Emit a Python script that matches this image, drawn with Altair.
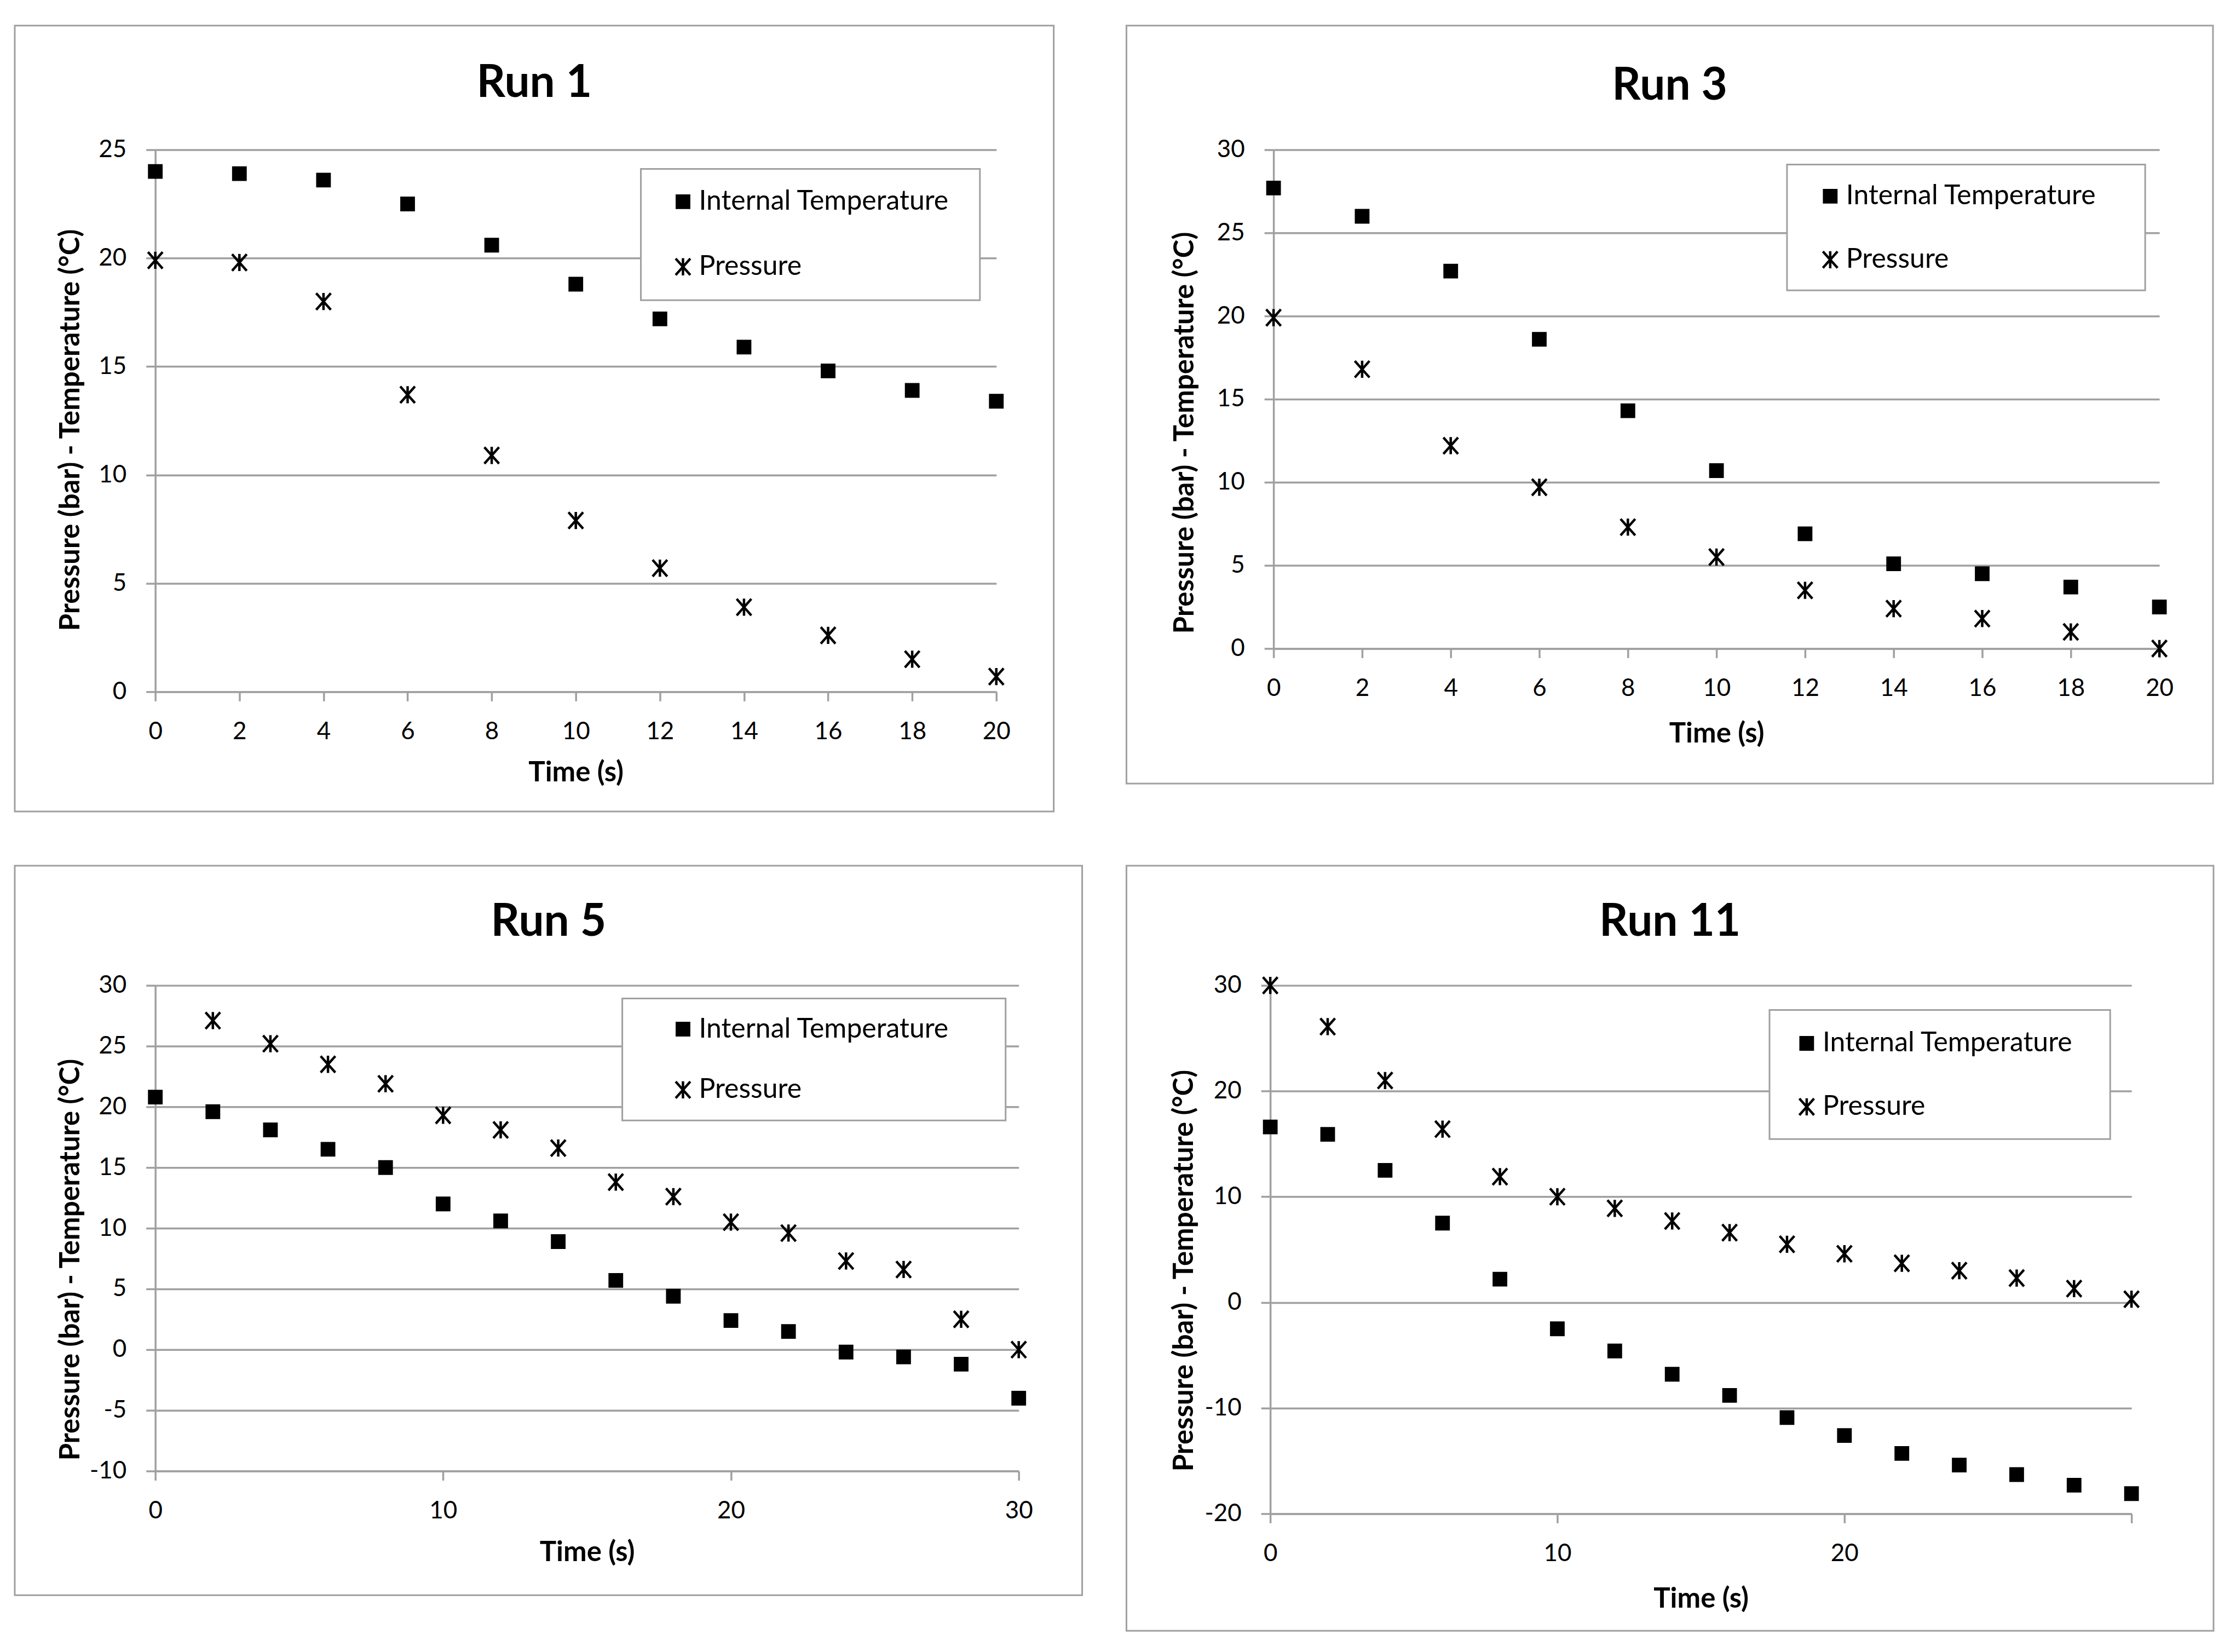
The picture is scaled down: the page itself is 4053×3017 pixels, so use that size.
import altair as alt
import pandas as pd

SERIES = ["Internal Temperature", "Pressure"]

# ---- data ----
run1_time = [0, 2, 4, 6, 8, 10, 12, 14, 16, 18, 20]
run1_temp = [24.0, 23.9, 23.6, 22.5, 20.6, 18.8, 17.2, 15.9, 14.8, 13.9, 13.4]
run1_pres = [19.9, 19.8, 18.0, 13.7, 10.9, 7.9, 5.7, 3.9, 2.6, 1.5, 0.7]

run3_time = [0, 2, 4, 6, 8, 10, 12, 14, 16, 18, 20]
run3_temp = [27.7, 26.0, 22.7, 18.6, 14.3, 10.7, 6.9, 5.1, 4.5, 3.7, 2.5]
run3_pres = [19.9, 16.8, 12.2, 9.7, 7.3, 5.5, 3.5, 2.4, 1.8, 1.0, 0.0]

run5_time = [0, 2, 4, 6, 8, 10, 12, 14, 16, 18, 20, 22, 24, 26, 28, 30]
run5_temp = [20.8, 19.6, 18.1, 16.5, 15.0, 12.0, 10.6, 8.9, 5.7, 4.4, 2.4, 1.5, -0.2, -0.6, -1.2, -4.0]
run5_pres_time = [2, 4, 6, 8, 10, 12, 14, 16, 18, 20, 22, 24, 26, 28, 30]
run5_pres = [27.1, 25.2, 23.5, 21.9, 19.3, 18.1, 16.6, 13.8, 12.6, 10.5, 9.6, 7.3, 6.6, 2.5, 0.0]

run11_time = [0, 2, 4, 6, 8, 10, 12, 14, 16, 18, 20, 22, 24, 26, 28, 30]
run11_temp = [16.6, 15.9, 12.5, 7.5, 2.2, -2.5, -4.6, -6.8, -8.8, -10.9, -12.6, -14.3, -15.4, -16.3, -17.3, -18.1]
run11_pres = [30.0, 26.1, 21.0, 16.4, 11.9, 10.0, 8.9, 7.7, 6.6, 5.5, 4.6, 3.7, 3.0, 2.3, 1.3, 0.3]

x_ticks_20 = [0, 2, 4, 6, 8, 10, 12, 14, 16, 18, 20]
x_ticks_30 = [0, 10, 20, 30]
y_ticks_run1 = [0, 5, 10, 15, 20, 25]
y_ticks_run3 = [0, 5, 10, 15, 20, 25, 30]
y_ticks_run5 = [-10, -5, 0, 5, 10, 15, 20, 25, 30]
y_ticks_run11 = [-20, -10, 0, 10, 20, 30]

X_TITLE = "Time (s)"
Y_TITLE = "Pressure (bar) - Temperature (°C)"

GRAY = "#a0a0a0"
FONT = "Lato"
ASTERISK = "M-1.2,-1.35L1.2,1.35M1.2,-1.35L-1.2,1.35M0,-1.4L0,1.4"


def long_df(tt, temp, pt, pres):
    rows = [{"Time": t, "Value": v, "Series": SERIES[0]} for t, v in zip(tt, temp)]
    rows += [{"Time": t, "Value": v, "Series": SERIES[1]} for t, v in zip(pt, pres)]
    return pd.DataFrame(rows)


def rect_layer(b, fill):
    return alt.Chart(alt.Data(values=[{"k": 1}])).mark_rect(
        fill=fill, stroke=GRAY, strokeWidth=3
    ).encode(
        x=alt.value(b[0]), x2=alt.value(b[1]), y=alt.value(b[2]), y2=alt.value(b[3])
    )


def panel(title, df, w, h, xdom, xvals, ydom, yvals, box, legbox, legxy, rowpad,
          ytitle_xy, xtitle_y, title_offset, hide_last=False):
    xlabel_expr = "datum.value == 30 ? '' : '' + datum.value" if hide_last else "'' + datum.value"
    xaxis = alt.Axis(
        values=xvals, title=X_TITLE, grid=False,
        domainColor=GRAY, domainWidth=3.5, tickColor=GRAY, tickWidth=3.5, tickSize=17,
        labelFont=FONT, labelFontSize=44, labelColor="black", labelPadding=34,
        labelExpr=xlabel_expr, labelFlush=False, labelOverlap=False,
        titleFont=FONT, titleFontSize=51, titleFontWeight="bold", titleColor="black",
        titleY=xtitle_y, titleX=w / 2, titleBaseline="middle", titleAlign="center",
    )
    yaxis = alt.Axis(
        values=yvals, title=Y_TITLE, grid=True, gridColor=GRAY, gridWidth=3.5,
        domainColor=GRAY, domainWidth=3.5, tickColor=GRAY, tickWidth=3.5, tickSize=17,
        labelFont=FONT, labelFontSize=44, labelColor="black", labelPadding=36,
        labelExpr="'' + datum.value", labelFlush=False, labelOverlap=False,
        titleFont=FONT, titleFontSize=51, titleFontWeight="bold", titleColor="black",
        titleX=ytitle_xy[0], titleY=ytitle_xy[1], titleAngle=270,
        titleAlign="center", titleBaseline="middle",
    )
    legend = alt.Legend(
        title=None, orient="none", legendX=legxy[0], legendY=legxy[1],
        labelFont=FONT, labelFontSize=50, labelColor="black", labelLimit=2000,
        labelOffset=4, rowPadding=rowpad, padding=0, symbolSize=500,
        symbolStrokeWidth=4.5,
    )
    pts = alt.Chart(df).mark_point(
        filled=False, strokeWidth=4.5, size=500, opacity=1
    ).encode(
        x=alt.X("Time:Q", scale=alt.Scale(domain=xdom, nice=False, zero=False), axis=xaxis),
        y=alt.Y("Value:Q", scale=alt.Scale(domain=ydom, nice=False, zero=False), axis=yaxis),
        shape=alt.Shape("Series:N", scale=alt.Scale(domain=SERIES, range=["square", ASTERISK]),
                        legend=legend),
        fill=alt.Fill("Series:N", scale=alt.Scale(domain=SERIES, range=["black", "transparent"]),
                      legend=legend),
        stroke=alt.Stroke("Series:N", scale=alt.Scale(domain=SERIES, range=["black", "black"]),
                          legend=legend),
    )
    return alt.layer(rect_layer(box, "transparent"), rect_layer(legbox, "white"), pts).properties(
        width=w, height=h,
        title=alt.TitleParams(
            text=title, font=FONT, fontSize=82, fontWeight="bold", color="black",
            anchor="middle", baseline="alphabetic", offset=title_offset, frame="bounds",
        ),
    )


p1 = panel("Run 1", long_df(run1_time, run1_temp, run1_time, run1_pres),
           1538, 991, [0, 20], x_ticks_20, [0, 25], y_ticks_run1,
           box=(-257, 1643, -227, 1210), legbox=(888, 1508, 35, 275),
           legxy=(940, 70), rowpad=69, ytitle_xy=(-154, 512), xtitle_y=148,
           title_offset=-213.5)
p3 = panel("Run 3", long_df(run3_time, run3_temp, run3_time, run3_pres),
           1620, 912, [0, 20], x_ticks_20, [0, 30], y_ticks_run3,
           box=(-269, 1718, -227, 1159), legbox=(939, 1594, 27, 257),
           legxy=(993, 60), rowpad=66, ytitle_xy=(-162, 517), xtitle_y=156,
           title_offset=-218.5)
p5 = panel("Run 5", long_df(run5_time, run5_temp, run5_pres_time, run5_pres),
           1579, 888, [0, 30], x_ticks_30, [-10, 30], y_ticks_run5,
           box=(-257, 1695, -219, 1115), legbox=(854, 1555, 24, 247),
           legxy=(940, 55), rowpad=61, ytitle_xy=(-154, 501), xtitle_y=149,
           title_offset=-211.5)
p11 = panel("Run 11", long_df(run11_time, run11_temp, run11_time, run11_pres),
            1575, 966, [0, 30], x_ticks_30, [-20, 30], y_ticks_run11,
            box=(-263, 1725, -219, 1180), legbox=(913, 1536, 45, 281),
            legxy=(956, 81), rowpad=66, ytitle_xy=(-157, 521), xtitle_y=156,
            title_offset=-211.5, hide_last=True)

CH = dict(shape="independent", fill="independent", stroke="independent")

row1 = alt.hconcat(p1, p3, spacing=129).resolve_scale(**CH).resolve_legend(**CH)
row2 = alt.hconcat(p5, p11, spacing=77).resolve_scale(**CH).resolve_legend(**CH)

chart = alt.vconcat(row1, row2, spacing=95).resolve_scale(**CH).resolve_legend(**CH).properties(
    padding={"left": 17, "top": 35, "right": 0, "bottom": 5}
).configure(background="white").configure_view(stroke="transparent").configure_legend(
    strokeColor="transparent"
)

chart.save("out.html", embed_options={"renderer": "svg", "actions": False})
